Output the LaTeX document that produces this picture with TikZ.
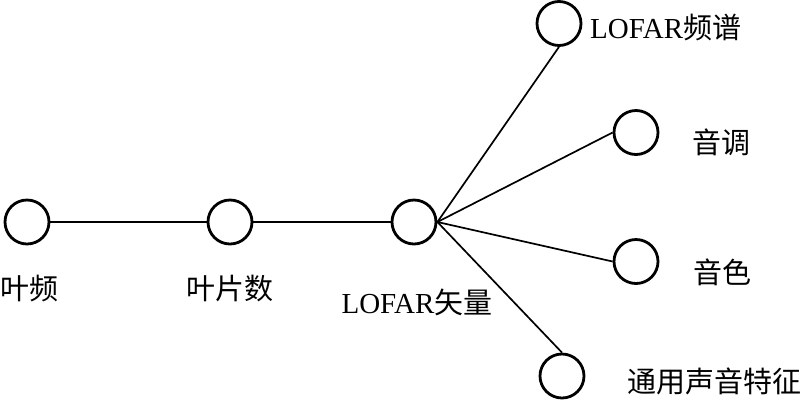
\documentclass[tikz,border=0pt]{standalone}
\usepackage{fontspec}
\setmainfont{Liberation Serif}
\newfontfamily\cjk{Noto Sans CJK SC}
\begin{document}
\begin{tikzpicture}[x=1bp,y=-1bp,
  vert/.style={circle,draw,line width=2.8bp,minimum size=44bp,inner sep=0pt},
  lbl/.style={font=\fontsize{29bp}{32bp}\selectfont,inner sep=0pt},
  edge/.style={line width=1.7bp}]
\useasboundingbox (0,0) rectangle (802,401);
\node[vert] (c1) at (27,222) {};
\node[vert] (c2) at (230,222) {};
\node[vert] (c3) at (414,222) {};
\node[vert] (c4) at (559,23.5) {};
\node[vert] (c5) at (636,132.5) {};
\node[vert] (c6) at (636,261.5) {};
\node[vert] (c7) at (562,376) {};
\node[lbl,anchor=west] (t1) at (0.5,288) {\cjk 叶频};
\node[lbl] (t2) at (230,288) {\cjk 叶片数};
\node[lbl] (t3) at (417,302) {LOFAR{\cjk 矢量}};
\node[lbl,anchor=west] (t4) at (590,27) {LOFAR{\cjk 频谱}};
\node[lbl] (t5) at (721,142) {\cjk 音调};
\node[lbl] (t6) at (722,272.5) {\cjk 音色};
\node[lbl] (t7) at (714,381) {\cjk 通用声音特征};
\draw[edge] (c1) -- (c2);
\draw[edge] (c2) -- (c3);
\draw[edge] (c3.east) -- (c4.south);
\draw[edge] (c3.east) -- (c5.west);
\draw[edge] (c3.east) -- (c6.west);
\draw[edge] (c3.east) -- (c7.north);
\end{tikzpicture}
\end{document}
